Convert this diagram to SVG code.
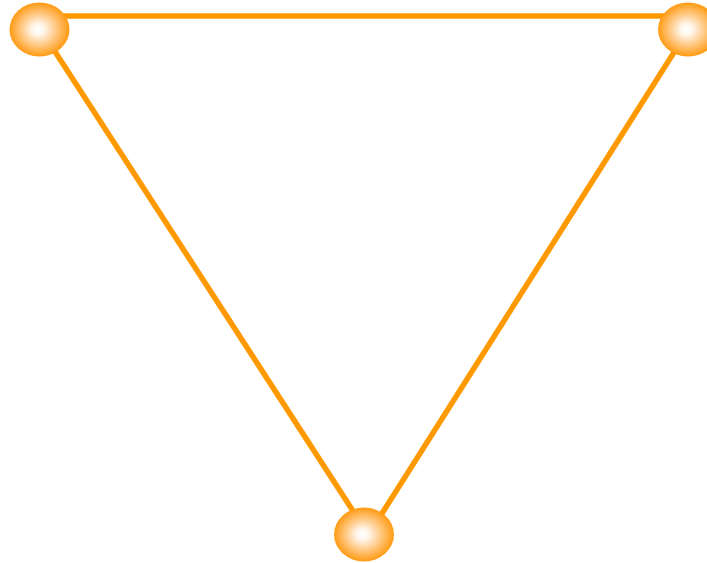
<svg xmlns="http://www.w3.org/2000/svg" width="707" height="563" viewBox="0 0 707 563">
<defs>
<radialGradient id="g" cx="0.5" cy="0.5" r="0.5" fx="0.47" fy="0.5">
<stop offset="0" stop-color="#ffffff"/>
<stop offset="0.2" stop-color="#fff6ec"/>
<stop offset="0.5" stop-color="#ffd29a"/>
<stop offset="1" stop-color="#ff9a12"/>
</radialGradient>
<style>
.e{stroke:#ff9900;stroke-width:5.5;fill:none;stroke-linecap:butt}
.n{fill:url(#g)}
</style>
</defs>
<rect width="707" height="563" fill="#ffffff"/>
<g id="connectors">
<line class="e" x1="60" y1="16" x2="668" y2="16"/>
<line class="e" x1="52" y1="47" x2="355" y2="514"/>
<line class="e" x1="678" y1="46" x2="381" y2="515"/>
</g>
<g id="node1"><ellipse class="n" cx="39.5" cy="29.5" rx="30" ry="27"/></g>
<g id="node2"><ellipse class="n" cx="688" cy="29.5" rx="30" ry="27"/></g>
<g id="node3"><ellipse class="n" cx="364" cy="534.5" rx="30" ry="27"/></g>
</svg>
